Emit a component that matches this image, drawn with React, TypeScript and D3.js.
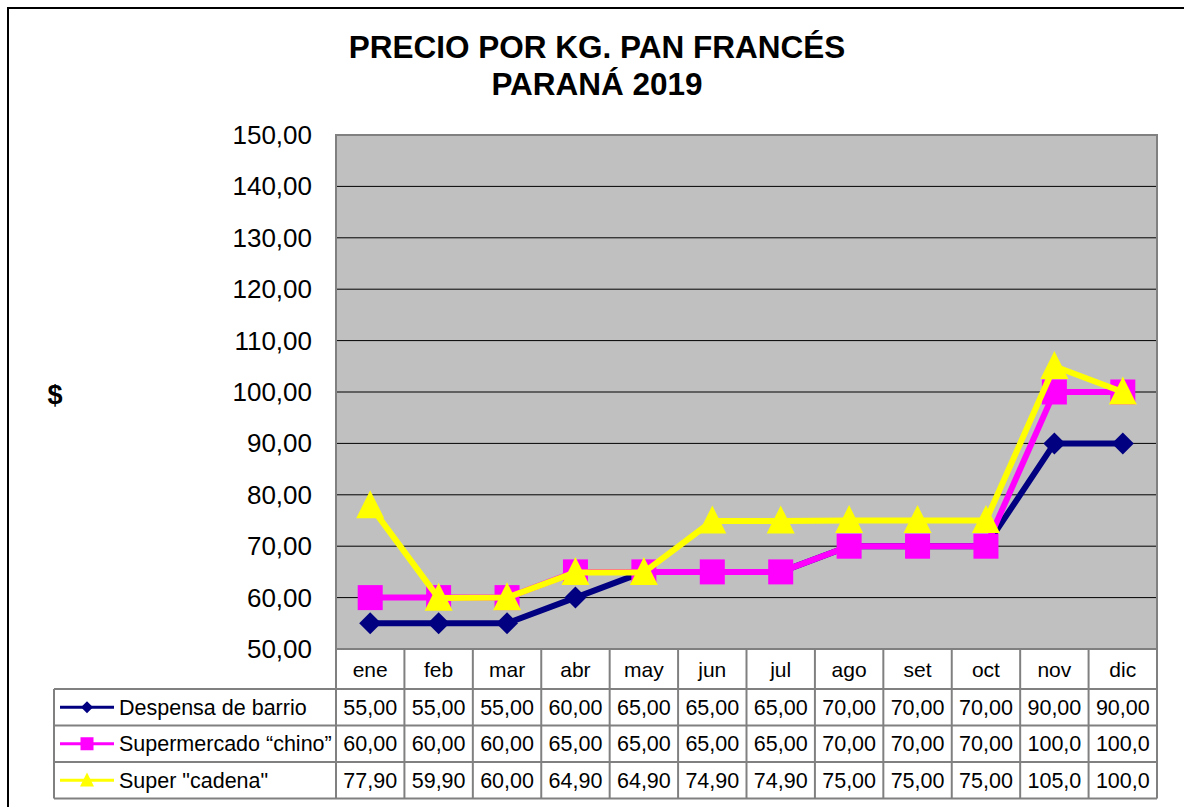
import React from "react";
import * as d3 from "d3";

const months = ["ene", "feb", "mar", "abr", "may", "jun", "jul", "ago", "set", "oct", "nov", "dic"];
const despensa = [55, 55, 55, 60, 65, 65, 65, 70, 70, 70, 90, 90];
const chino = [60, 60, 60, 65, 65, 65, 65, 70, 70, 70, 100, 100];
const cadena = [77.9, 59.9, 60, 64.9, 64.9, 74.9, 74.9, 75, 75, 75, 105, 100];
const despensaLabels = ["55,00", "55,00", "55,00", "60,00", "65,00", "65,00", "65,00", "70,00", "70,00", "70,00", "90,00", "90,00"];
const chinoLabels = ["60,00", "60,00", "60,00", "65,00", "65,00", "65,00", "65,00", "70,00", "70,00", "70,00", "100,0", "100,0"];
const cadenaLabels = ["77,90", "59,90", "60,00", "64,90", "64,90", "74,90", "74,90", "75,00", "75,00", "75,00", "105,0", "100,0"];
const yTicks = [50, 60, 70, 80, 90, 100, 110, 120, 130, 140, 150];
const seriesNames = ["Despensa de barrio", "Supermercado \u201cchino\u201d", 'Super "cadena"'];

const series = [
  { name: seriesNames[0], values: despensa, labels: despensaLabels, color: "#000080", marker: "diamond" },
  { name: seriesNames[1], values: chino, labels: chinoLabels, color: "#FF00FF", marker: "square" },
  { name: seriesNames[2], values: cadena, labels: cadenaLabels, color: "#FFFF00", marker: "triangle" },
];

const FONT = "'Liberation Sans', Arial, sans-serif";

function Marker({ type, x, y, color, size }: { type: string; x: number; y: number; color: string; size: number }) {
  if (type === "diamond") {
    const s = size / 2;
    return <path d={`M${x},${y - s}L${x + s},${y}L${x},${y + s}L${x - s},${y}Z`} fill={color} />;
  }
  if (type === "square") {
    const s = size / 2;
    return <rect x={x - s} y={y - s} width={size} height={size} fill={color} />;
  }
  const s = size / 2;
  return <path d={`M${x},${y - s * 1.1}L${x + s},${y + s * 0.9}L${x - s},${y + s * 0.9}Z`} fill={color} />;
}

export default function App() {
  const W = 1184, H = 807;
  const left = 336, right = 1157, top = 135, bottom = 649;
  const x = d3.scaleBand<string>().domain(months).range([left, right]);
  const y = d3.scaleLinear().domain([50, 150]).range([bottom, top]);
  const line = d3.line<number>().x((_, i) => x(months[i])! + x.bandwidth() / 2).y((d) => y(d));

  const catRowBottom = 689;
  const rowH = 36.5;
  const legendLeft = 54;
  const markerSizes: Record<string, number> = { diamond: 22, square: 25, triangle: 28 };
  const legendMarkerSizes: Record<string, number> = { diamond: 12, square: 13, triangle: 14 };

  return (
    <svg width={W} height={H} style={{ position: "absolute", left: 0, top: 0 }}>
      <rect x={0} y={0} width={W} height={H} fill="#fff" />
      <rect x={8} y={8} width={W + 20} height={H + 20} fill="none" stroke="#000" strokeWidth={2} />
      <text x={597} y={58} textAnchor="middle" fontFamily={FONT} fontWeight="bold" fontSize={31.5}>PRECIO POR KG. PAN FRANCÉS</text>
      <text x={597} y={95} textAnchor="middle" fontFamily={FONT} fontWeight="bold" fontSize={31.5}>PARANÁ 2019</text>
      <text x={55} y={404} textAnchor="middle" fontFamily={FONT} fontWeight="bold" fontSize={27}>$</text>

      <rect x={left} y={top} width={right - left} height={bottom - top} fill="#C0C0C0" />
      {yTicks.slice(1, -1).map((t) => (
        <line key={t} x1={left} x2={right} y1={y(t)} y2={y(t)} stroke="#000" strokeWidth={1} />
      ))}
      <rect x={left} y={top} width={right - left} height={bottom - top} fill="none" stroke="#808080" strokeWidth={2} />
      {yTicks.map((t) => (
        <text key={t} x={312} y={y(t) + 9} textAnchor="end" fontFamily={FONT} fontSize={26}>
          {d3.format(".2f")(t).replace(".", ",")}
        </text>
      ))}

      {series.map((s) => (
        <g key={s.name}>
          <path d={line(s.values)!} fill="none" stroke={s.color} strokeWidth={6} strokeLinejoin="round" />
          {s.values.map((v, i) => (
            <Marker key={i} type={s.marker} x={x(months[i])! + x.bandwidth() / 2} y={y(v)} color={s.color} size={markerSizes[s.marker]} />
          ))}
        </g>
      ))}

      {/* table */}
      <g stroke="#808080" strokeWidth={2} fill="none">
        <line x1={left} x2={left} y1={bottom} y2={catRowBottom + rowH * 3} />
        {months.map((m) => (
          <line key={m} x1={x(m)! + x.bandwidth()} x2={x(m)! + x.bandwidth()} y1={bottom} y2={catRowBottom + rowH * 3} />
        ))}
        <line x1={legendLeft} x2={legendLeft} y1={catRowBottom} y2={catRowBottom + rowH * 3} />
        {[0, 1, 2, 3].map((r) => (
          <line key={r} x1={legendLeft} x2={right} y1={catRowBottom + rowH * r} y2={catRowBottom + rowH * r} />
        ))}
      </g>
      {months.map((m) => (
        <text key={m} x={x(m)! + x.bandwidth() / 2} y={677} textAnchor="middle" fontFamily={FONT} fontSize={21}>{m}</text>
      ))}
      {series.map((s, r) => {
        const cy = catRowBottom + rowH * r + rowH / 2;
        return (
          <g key={s.name}>
            <line x1={60} x2={114} y1={cy} y2={cy} stroke={s.color} strokeWidth={3} />
            <Marker type={s.marker} x={87} y={cy} color={s.color} size={legendMarkerSizes[s.marker]} />
            <text x={119} y={cy + 7.5} fontFamily={FONT} fontSize={21.5}>{s.name}</text>
            {s.labels.map((l, i) => (
              <text key={i} x={x(months[i])! + x.bandwidth() / 2} y={cy + 7.5} textAnchor="middle" fontFamily={FONT} fontSize={21.5}>{l}</text>
            ))}
          </g>
        );
      })}
    </svg>
  );
}
